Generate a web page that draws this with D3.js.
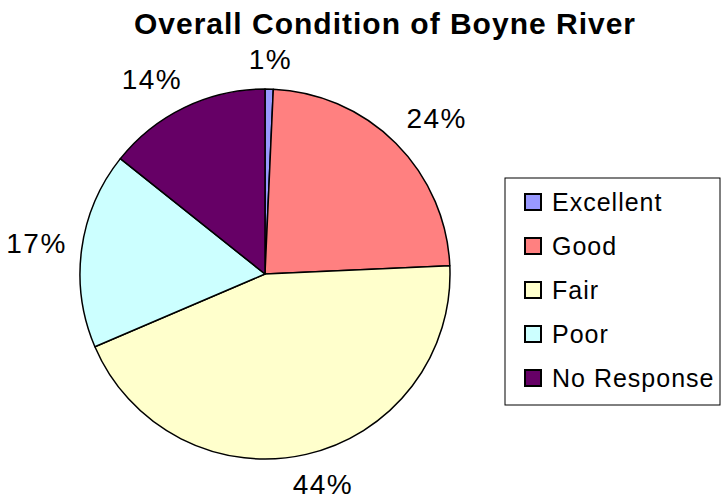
<!DOCTYPE html>
<html>
<head>
<meta charset="utf-8">
<script src="https://cdn.jsdelivr.net/npm/d3@7"></script>
<style>
  body { margin: 0; background: #fff; }
  text { font-family: "Liberation Sans", Arial, sans-serif; fill: #000; }
</style>
</head>
<body>
<div id="chart"></div>
<script>
// data
const categories = ['Excellent', 'Good', 'Fair', 'Poor', 'No Response'];
const counts = [1, 33, 62, 24, 20];
const colors = ['#9999FF', '#FF8080', '#FFFFCC', '#CCFFFF', '#660066'];

const width = 728, height = 501;
const cx = 265, cy = 274, radius = 185;

const svg = d3.select('#chart').append('svg')
    .attr('width', width)
    .attr('height', height);

svg.append('text')
    .attr('x', 385)
    .attr('y', 34)
    .attr('text-anchor', 'middle')
    .style('font-size', '30px')
    .style('font-weight', 'bold')
    .style('letter-spacing', '1px')
    .text('Overall Condition of Boyne River');

const total = d3.sum(counts);
const data = categories.map((c, i) => ({ name: c, value: counts[i], color: colors[i] }));

const pie = d3.pie().sort(null).value(d => d.value);
const arc = d3.arc().innerRadius(0).outerRadius(radius);
const arcs = pie(data);

const g = svg.append('g').attr('transform', `translate(${cx},${cy})`);

g.selectAll('path')
    .data(arcs)
    .enter().append('path')
    .attr('d', arc)
    .attr('fill', d => d.data.color)
    .attr('stroke', '#000')
    .attr('stroke-width', 1.5)
    .attr('stroke-linejoin', 'round');

// labels outside the pie, nearest edge of the label touching a circle of radius R
const fmt = d3.format('.0%');
const R = 200, capH = 20, padY = 5;
const clamp = v => Math.max(-1, Math.min(1, v));
g.selectAll('text.lbl')
    .data(arcs)
    .enter().append('text')
    .attr('class', 'lbl')
    .attr('text-anchor', 'start')
    .style('font-size', '28px')
    .style('letter-spacing', '1.5px')
    .text(d => fmt(d.data.value / total))
    .each(function(d) {
        const w = this.getComputedTextLength();
        const a = (d.startAngle + d.endAngle) / 2;
        const s = Math.sin(a), c = Math.cos(a);
        const x = s * R + clamp(s * 2) * w / 2;
        const y = -c * R - clamp(c * 2) * (capH / 2 + padY);
        d3.select(this)
            .attr('x', x - w / 2)
            .attr('y', y + capH / 2);
    });

// legend
const legend = svg.append('g').attr('transform', 'translate(505,178)');
legend.append('rect')
    .attr('width', 215)
    .attr('height', 227)
    .attr('fill', '#fff')
    .attr('stroke', '#000')
    .attr('stroke-width', 1);

const ly = d3.scalePoint().domain(categories).range([24, 200]);
const items = legend.selectAll('g.item')
    .data(data)
    .enter().append('g')
    .attr('class', 'item')
    .attr('transform', d => `translate(20,${ly(d.name)})`);

items.append('rect')
    .attr('x', 0)
    .attr('y', -8)
    .attr('width', 16)
    .attr('height', 16)
    .attr('fill', d => d.color)
    .attr('stroke', '#000')
    .attr('stroke-width', 2);

items.append('text')
    .attr('x', 27)
    .attr('y', 9)
    .style('font-size', '25px')
    .style('letter-spacing', '1px')
    .text(d => d.name);
</script>
</body>
</html>
